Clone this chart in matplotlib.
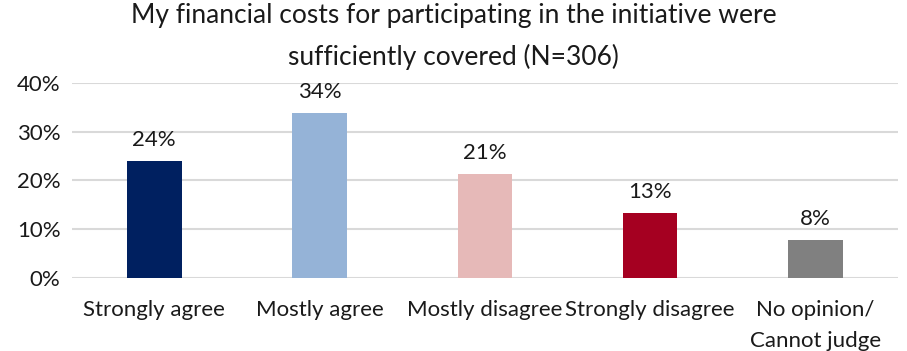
import matplotlib.pyplot as plt

plt.rcParams['font.family'] = ['Lato', 'DejaVu Sans']

categories = ['Strongly agree', 'Mostly agree', 'Mostly disagree',
              'Strongly disagree', 'No opinion/\nCannot judge']
shares = [23.9, 33.8, 21.3, 13.4, 7.8]
colors = ['#002060', '#95B3D7', '#E6B9B8', '#A50021', '#808080']
yticks = [0, 10, 20, 30, 40]

fig = plt.figure(figsize=(9.07, 3.51), dpi=100)
ax = fig.add_axes([0.079, 0.208, 0.911, 0.556])

x = range(len(categories))
bars = ax.bar(x, shares, width=0.33, color=colors, zorder=3)

# percentage label above each bar
for b, v in zip(bars, shares):
    ax.annotate(f'{v:.0f}%', (b.get_x() + b.get_width() / 2, v),
                xytext=(0, 8), textcoords='offset points',
                ha='center', va='bottom', fontsize=16, color='#1a1a1a')

ax.set_xlim(-0.5, len(categories) - 0.5)
ax.set_ylim(0, 40)
ax.set_yticks(yticks)
ax.set_yticklabels([f'{t}%' for t in yticks], fontsize=16, color='#1a1a1a')
ax.set_xticks(list(x))
ax.set_xticklabels(categories, fontsize=16, color='#1a1a1a', linespacing=1.65)
ax.tick_params(length=0, pad=8)
ax.tick_params(axis='x', pad=16)
ax.yaxis.grid(True, color='#D9D9D9', linewidth=1.5, zorder=0)
for s in ax.spines.values():
    s.set_visible(False)

fig.text(0.5, 0.896, 'My financial costs for participating in the initiative were\nsufficiently covered (N=306)',
         ha='center', va='center', fontsize=19, color='#1a1a1a', linespacing=1.75)

fig.savefig('out.png', dpi=100)
